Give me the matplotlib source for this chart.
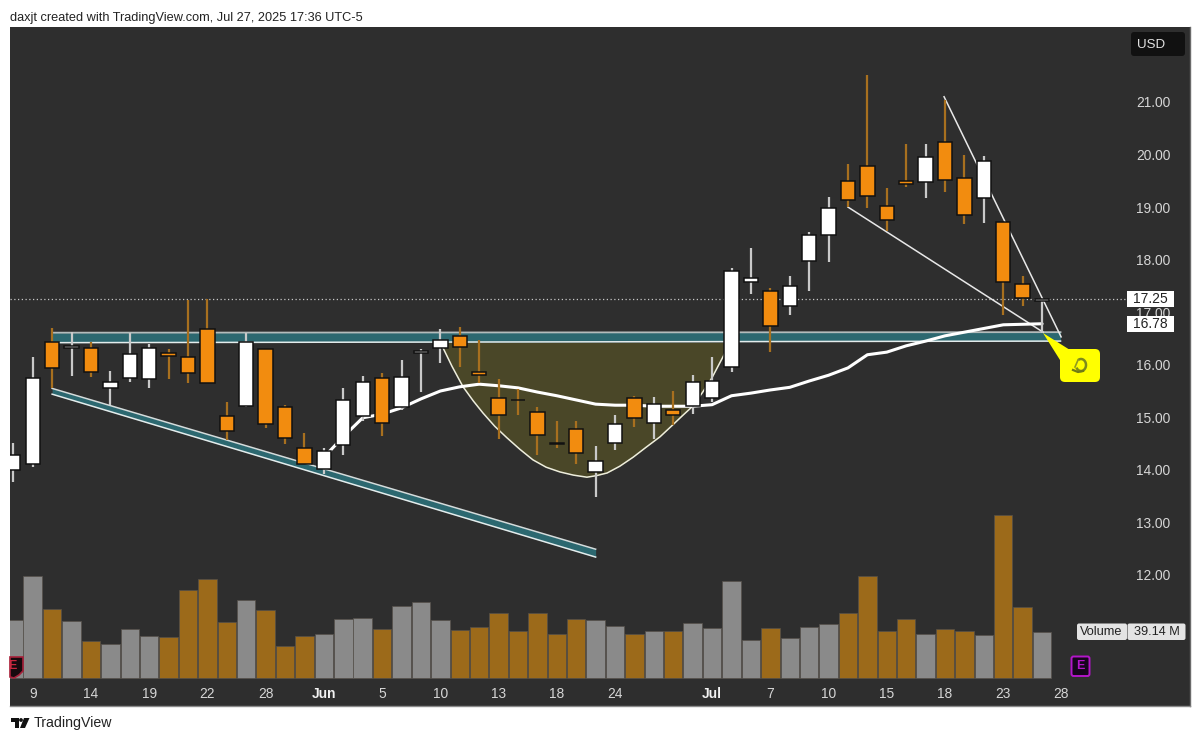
import matplotlib
matplotlib.use("Agg")
import matplotlib.pyplot as plt
from matplotlib.patches import FancyBboxPatch, Polygon, Rectangle, Arc, Circle

# ---------- data ----------
opens  = [14.00,14.12,16.44,16.31,16.32,15.55,15.74,15.72,16.22,16.15,16.68,15.03,15.21,16.30,15.20,14.42,
          14.02,14.47,15.02,15.74,15.20,16.22,16.31,16.55,15.86,15.37,15.33,15.11,14.51,14.78,13.95,14.52,
          15.36,14.89,15.13,15.21,15.36,15.95,17.57,17.40,17.12,17.98,18.47,19.49,19.78,19.03,19.49,19.48,
          20.23,19.55,19.18,18.71,17.54,17.22]
closes = [14.28,15.75,15.94,16.36,15.87,15.68,16.20,16.31,16.17,15.84,15.65,14.73,16.44,14.87,14.60,14.12,
          14.35,15.32,15.67,14.89,15.77,16.27,16.48,16.34,15.81,15.04,15.32,14.67,14.50,14.32,14.17,14.87,
          14.98,15.26,15.04,15.68,15.70,17.78,17.65,16.74,17.50,18.46,18.99,19.14,19.22,18.76,19.44,19.96,
          19.52,18.84,19.87,17.57,17.27,17.25]
highs  = [14.51,16.15,16.70,16.63,16.43,15.89,16.60,16.39,16.30,17.23,17.25,15.30,16.60,16.30,15.23,14.70,
          14.42,15.55,15.79,15.85,16.09,16.30,16.68,16.72,16.47,15.72,15.53,15.19,14.93,14.92,14.45,15.04,
          15.41,15.39,15.50,15.80,16.15,17.84,18.22,17.46,17.68,18.53,19.20,19.82,21.51,19.36,20.21,20.21,
          21.03,20.00,19.98,18.71,17.69,17.25]
lows   = [13.77,14.06,15.56,15.79,15.77,15.23,15.68,15.56,15.72,15.66,15.65,14.57,15.19,14.79,14.50,14.12,
          13.93,14.28,14.92,14.65,15.13,15.48,16.03,15.95,15.65,14.58,15.04,14.28,14.42,14.11,13.49,14.37,
          14.82,14.58,14.85,15.06,15.30,15.87,17.35,16.25,16.95,17.40,17.95,19.01,18.98,18.54,19.39,19.17,
          19.28,18.68,18.70,16.94,17.12,16.60]
volumes = [49.3,85.9,58.1,48.4,31.0,29.0,41.2,35.2,34.4,74.6,83.9,47.1,66.2,57.7,27.3,35.2,36.9,49.9,51.0,41.7,
           61.1,64.5,49.3,40.8,42.8,54.7,39.7,54.7,37.4,49.6,48.8,43.7,37.4,40.0,40.0,46.5,42.0,81.7,32.4,42.5,
           34.1,42.8,45.9,54.7,86.2,39.5,49.6,37.4,41.4,40.0,36.1,137.5,59.7,39.14]
ma_start = 16
ma_values = [14.24,14.63,14.99,15.06,15.18,15.35,15.50,15.58,15.63,15.60,15.56,15.48,15.41,15.33,15.25,15.23,
             15.23,15.21,15.21,15.21,15.24,15.41,15.46,15.52,15.57,15.69,15.80,15.94,16.19,16.24,16.36,16.45,
             16.55,16.62,16.69,16.76,16.77,16.78]
x_tick_pos = [1,4,7,10,13,16,19,22,25,28,31,36,39,42,45,48,51,54]
x_tick_lab = ["9","14","19","22","28","Jun","5","10","13","18","24","Jul","7","10","15","18","23","28"]
y_ticks = [12,13,14,15,16,17,18,19,20,21]

band_x = [2.0, 53.95]
band_top = [16.61, 16.62]
band_bot = [16.42, 16.45]
channel_x = [2.0, 30.0]
channel_top = [15.55, 12.49]
channel_bot = [15.44, 12.34]
cup_x = [21.97,22.14,22.6,23.17,23.7,24.2,24.8,25.43,26.1,26.77,27.45,28.16,28.85,29.55,30.05,30.59,31.25,31.93,
         32.6,33.32,33.9,34.5,34.97,35.5,35.99,36.56,36.92]
cup_y = [16.43,16.32,15.97,15.58,15.31,15.08,14.83,14.61,14.39,14.19,14.05,13.96,13.90,13.86,13.89,13.94,14.07,14.24,
         14.43,14.63,14.83,15.04,15.20,15.47,15.75,16.15,16.41]
wedge_top_x = [47.95, 53.98]
wedge_top_y = [21.10, 16.53]
wedge_low_x = [43.0, 53.05]
wedge_low_y = [19.00, 16.62]
last_price = 17.25
last_ma = 16.78

# ---------- colours ----------
BG = "#2e2e2e"
ORANGE = "#f28c0f"
ORANGE_WICK = "#a8701f"
WHITE_WICK = "#c9c9c9"
VOL_ORANGE = "#9c6a1a"
VOL_GRAY = "#8a8a8a"
TEAL = "#2c6870"
TICK = "#d6d6d6"
FONT = "Liberation Sans"
plt.rcParams["font.family"] = FONT

W, H = 1200, 741
fig = plt.figure(figsize=(W/100, H/100), dpi=100, facecolor="white")
pos = [10/W, 1-706/H, 1180/W, 679/H]

# volume pane (behind)
axv = fig.add_axes(pos, facecolor=BG, zorder=1)
axv.set_xlim(-0.17, 60.62)
axv.set_ylim(-23.66, 550.1)
axv.set_xticks([]); axv.set_yticks([])
for s in axv.spines.values():
    s.set_visible(False)
idx = list(range(len(opens)))
up = [c >= o for o, c in zip(opens, closes)]
axv.bar(idx, volumes, width=0.95, color=[VOL_GRAY if u else VOL_ORANGE for u in up],
        edgecolor="#55504a", linewidth=0.5, zorder=2)

# price pane
ax = fig.add_axes(pos, facecolor="none", zorder=2)
ax.set_xlim(-0.17, 60.62)
ax.set_ylim(9.506, 22.427)
for s in ax.spines.values():
    s.set_visible(False)
ax.spines["bottom"].set_visible(True); ax.spines["bottom"].set_color("#8a8a8a"); ax.spines["bottom"].set_linewidth(1)
ax.spines["right"].set_visible(True); ax.spines["right"].set_color("#6a6a6a"); ax.spines["right"].set_linewidth(1)
ax.xaxis.set_ticks(x_tick_pos, x_tick_lab)
ax.yaxis.tick_right()
ax.yaxis.set_ticks(y_ticks, [f"{v:.2f}" for v in y_ticks])
ax.tick_params(axis="x", length=0, pad=-13.6, labelsize=9.9, labelcolor=TICK)
ax.tick_params(axis="y", length=0, pad=-39, labelsize=9.9, labelcolor=TICK)
for t in ax.get_xticklabels():
    if t.get_text() in ("Jun", "Jul"):
        t.set_fontweight("bold")
        t.set_color("#f2f2f2")

# drawings
ax.fill_between(cup_x, cup_y, [16.43]*len(cup_x), color="#4a4728", linewidth=0, zorder=1.2)
ax.plot(cup_x, cup_y, color="#eeeedd", lw=1.1, zorder=1.6)
ax.fill_between(band_x, band_bot, band_top, color=TEAL, linewidth=0, zorder=1.3)
ax.plot(band_x, band_top, color="#b4bcbc", lw=1.3, zorder=1.4)
ax.plot(band_x, band_bot, color="#e4ecec", lw=1.1, zorder=1.4)
ax.fill_between(channel_x, channel_bot, channel_top, color=TEAL, linewidth=0, zorder=1.3)
ax.plot(channel_x, channel_top, color="#d4dcdc", lw=1.1, zorder=1.4)
ax.plot(channel_x, channel_bot, color="#e4ecec", lw=1.1, zorder=1.4)
ax.plot(wedge_top_x, wedge_top_y, color="#e8e8e8", lw=1.1, zorder=1.7)
ax.plot(wedge_low_x, wedge_low_y, color="#e8e8e8", lw=1.1, zorder=1.7)
ax.axhline(last_price, xmax=(1127-10)/1180, color="#c8c8c8", lw=0.9, ls=(0, (1, 2)), zorder=1.5)

# moving average
ax.plot(range(ma_start, ma_start+len(ma_values)), ma_values, color="white", lw=2.2, zorder=2,
        solid_capstyle="round")

# candles
ax.vlines(idx, lows, highs, colors=[WHITE_WICK if u else ORANGE_WICK for u in up], lw=1.6, zorder=3)
ax.bar(idx, [abs(c-o) for o, c in zip(opens, closes)], bottom=[min(o, c) for o, c in zip(opens, closes)],
       width=0.74, color=["white" if u else ORANGE for u in up], edgecolor="#111111", linewidth=1.1, zorder=4)

# price labels
yt = ax.get_yaxis_transform()
def tag(y, s):
    ax.add_patch(Rectangle(((1127-10)/1180, y-0.152), 47/1180, 0.304, transform=yt, fc="white", ec="none",
                           zorder=9, clip_on=False))
    ax.text((1150.5-10)/1180, y, s, transform=yt, ha="center", va="center",
            fontsize=10, color="#222222", zorder=10)
tag(last_price, f"{last_price:.2f}")
tag(last_ma, f"{last_ma:.2f}")

# chrome overlay in pixel coordinates
ov = fig.add_axes([0, 0, 1, 1], facecolor="none", zorder=3)
ov.set_xlim(0, W); ov.set_ylim(H, 0); ov.axis("off")

ov.text(10, 17.5, "daxjt created with TradingView.com, Jul 27, 2025 17:36 UTC-5", fontsize=9.2,
        color="#222222", va="center", ha="left")

# USD
ov.add_patch(FancyBboxPatch((1131, 32), 54, 24, boxstyle="round,pad=0,rounding_size=3", fc="#111111", ec="none"))
ov.text(1151, 44.5, "USD", color="#e2e2e2", fontsize=9.6, ha="center", va="center")

# callout
ov.add_patch(Polygon([(1043, 333), (1070, 350), (1060, 360)], closed=True, fc="#ffff00", ec="none"))
ov.add_patch(FancyBboxPatch((1060, 349), 40, 33, boxstyle="round,pad=0,rounding_size=5", fc="#ffff00", ec="none"))
ov.add_patch(Arc((1081, 365), 10, 12, theta1=-120, theta2=150, color="#7d8a1c", lw=1.8))
ov.plot([1073, 1078, 1083], [370, 372, 371], color="#6f7a16", lw=1.6)
ov.plot([1078, 1075], [360, 367], color="#8f9a20", lw=1.2)

# volume tag
ov.add_patch(FancyBboxPatch((1077, 623.5), 50, 16.5, boxstyle="round,pad=0,rounding_size=2", fc="#e4e4e4", ec="none"))
ov.add_patch(FancyBboxPatch((1127.5, 623.5), 58, 16.5, boxstyle="round,pad=0,rounding_size=2", fc="#e4e4e4", ec="none"))
ov.text(1101.5, 632, "Volume", color="#222222", fontsize=9.2, ha="center", va="center")
ov.text(1156.5, 632, "39.14 M", color="#222222", fontsize=9.2, ha="center", va="center")

# earnings markers
ov.add_patch(Polygon([(10, 657), (23, 657), (23, 671), (19, 675), (14, 678), (10, 677)], closed=True, fc="#170a0e", ec="#a8203a", lw=1.2))
ov.text(12.5, 666, "E", color="#c8283f", fontsize=9, fontweight="bold", ha="center", va="center")
ov.add_patch(FancyBboxPatch((1071.5, 656.5), 18, 19.5, boxstyle="round,pad=0,rounding_size=2", fc="#16051c", ec="#b316c9", lw=1.4))
ov.text(1080.5, 666, "E", color="#b316c9", fontsize=9, fontweight="bold", ha="center", va="center")

# TradingView logo
ov.add_patch(Polygon([(10.5, 718), (19, 718), (19, 728), (15, 728), (15, 722), (10.5, 722)], closed=True, fc="#111111", ec="none"))
ov.add_patch(Circle((21, 720), 1.9, fc="#111111", ec="none"))
ov.add_patch(Polygon([(24, 718), (29.5, 718), (25, 728), (20, 728)], closed=True, fc="#111111", ec="none"))
ov.text(33.5, 722.5, "TradingView", color="#222222", fontsize=10.2, ha="left", va="center")

fig.savefig("out.png", dpi=100, facecolor="white")
